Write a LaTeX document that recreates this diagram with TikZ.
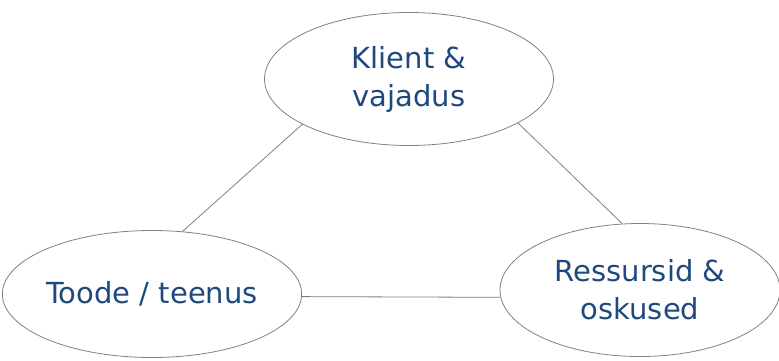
\documentclass[tikz,border=0pt]{standalone}
\usepackage{fontspec}
\setmainfont{DejaVu Sans}
\usetikzlibrary{shapes.geometric}
\definecolor{txtblue}{RGB}{31,73,125}
\definecolor{linegray}{RGB}{128,128,128}
\tikzset{
  oval/.style={ellipse, draw=linegray, line width=0.8pt, inner sep=0pt,
    text=txtblue, align=center, font=\fontsize{29}{38}\selectfont},
  link/.style={draw=linegray, line width=0.8pt}
}
\begin{document}
\begin{tikzpicture}[x=1pt,y=1pt]
\useasboundingbox (0,0) rectangle (779,360);
\node[oval, minimum width=289pt, minimum height=133pt] (top) at (409,281) {Klient \&\\vajadus};
\node[oval, minimum width=288pt, minimum height=127pt] (left) at (152,66) {Toode / teenus};
\node[oval, minimum width=280pt, minimum height=133pt] (right) at (640,70) {Ressursid \&\\oskused};
\draw[link] (top.203) -- (left.64);
\draw[link] (top.338) -- (right.105);
\draw[link] (left.-1.6) -- (right.183.3);
\end{tikzpicture}
\end{document}
